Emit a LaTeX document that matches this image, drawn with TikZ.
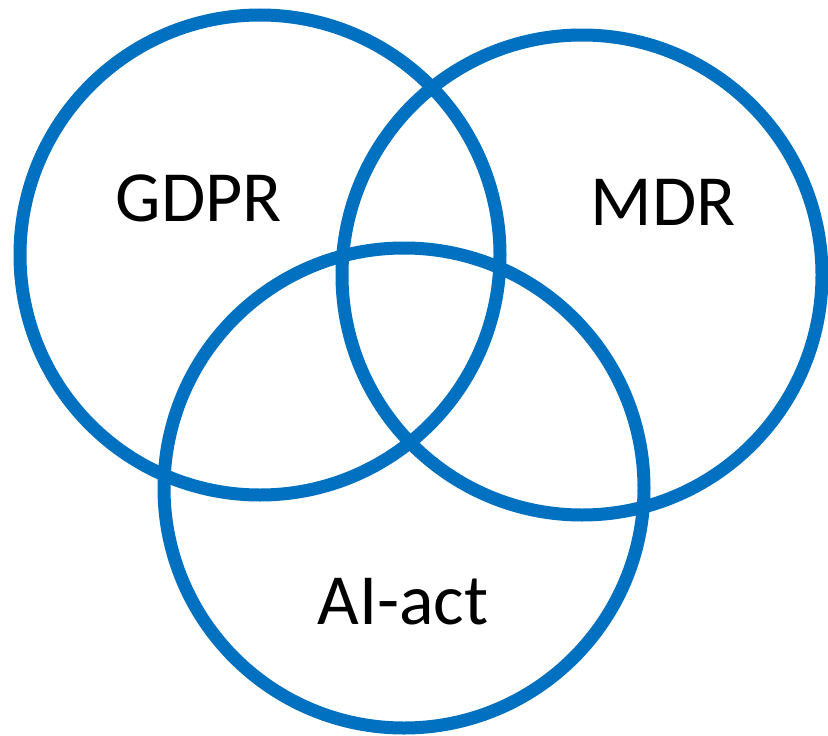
\documentclass[tikz,border=0pt]{standalone}
\usepackage{fontspec}
\setmainfont{Carlito}
\definecolor{ringblue}{HTML}{0070C0}
\begin{document}
\begin{tikzpicture}[x=1pt,y=-1pt,
  ring/.style={draw=ringblue,line width=13pt},
  lbl/.style={anchor=base,inner sep=0pt,font=\fontsize{72}{80}\selectfont}]
\useasboundingbox (0,0) rectangle (828,736);
\draw[ring] (260,255) circle[radius=240];
\draw[ring] (582,275) circle[radius=240];
\draw[ring] (404,488) circle[radius=240];
\node[lbl] (gdpr) at (199,221) {GDPR};
\node[lbl] (mdr) at (663,225) {MDR};
\node[lbl] (ai) at (403,624) {AI-act};
\end{tikzpicture}
\end{document}
